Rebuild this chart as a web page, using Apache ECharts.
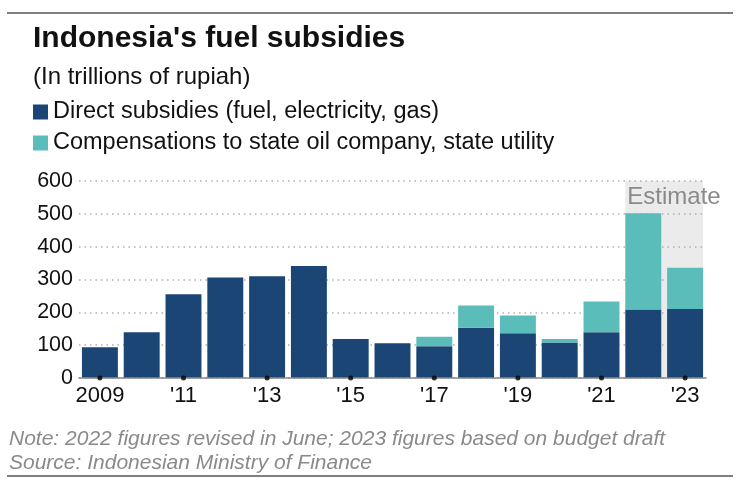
<!DOCTYPE html>
<html>
<head>
<meta charset="utf-8">
<script src="https://cdn.jsdelivr.net/npm/echarts@6/dist/echarts.min.js"></script>
<style>
  html, body { margin: 0; padding: 0; background: #fff; }
  #chart { width: 741px; height: 487px; }
</style>
</head>
<body>
<div id="chart"></div>
<script>
// 数据
const years = ['2009', '2010', '2011', '2012', '2013', '2014', '2015', '2016',
    '2017', '2018', '2019', '2020', '2021', '2022', '2023'];
const direct = [94, 139, 255, 306, 310, 341, 119, 106, 97, 153, 136, 108, 139, 209, 210];
const compensation = [0, 0, 0, 0, 0, 0, 0, 0, 29, 68, 54, 11, 94, 293, 126];
const tickYears = ['2009', '2011', '2013', '2015', '2017', '2019', '2021', '2023'];
const estimateYears = ['2022', '2023'];

const font = 'Liberation Sans, Arial, sans-serif';
const navy = '#1a4575';
const teal = '#5bbdb9';

const myChart = echarts.init(document.getElementById('chart'));

const option = {
    animation: false,
    textStyle: { fontFamily: font },
    title: [
        {
            text: "Indonesia's fuel subsidies",
            left: 33, top: 24, padding: 0,
            textStyle: { fontSize: 30, fontWeight: 'bold', color: '#111', fontFamily: font }
        },
        {
            text: '(In trillions of rupiah)',
            left: 33, top: 65, padding: 0,
            textStyle: { fontSize: 24, fontWeight: 'normal', color: '#111', fontFamily: font }
        }
    ],
    legend: {
        orient: 'vertical',
        left: 33, top: 100, padding: 0,
        itemGap: 7,
        itemWidth: 15, itemHeight: 15,
        icon: 'rect',
        data: ['Direct subsidies (fuel, electricity, gas)', 'Compensations to state oil company, state utility'],
        textStyle: { fontSize: 23.5, color: '#111', fontFamily: font }
    },
    grid: { left: 79, right: 35, top: 181, bottom: 109 },
    xAxis: {
        type: 'category',
        data: years,
        axisLine: { lineStyle: { color: '#888', width: 1.5 } },
        axisTick: { show: false },
        axisLabel: {
            interval: 1,
            fontSize: 22, color: '#111', margin: 7,
            formatter: v => v === '2009' ? v : "'" + v.slice(2)
        },
        z: 5
    },
    yAxis: {
        type: 'value',
        min: 0, max: 600, interval: 100,
        axisLabel: { fontSize: 21.5, color: '#111', margin: 6 },
        splitLine: { lineStyle: { color: '#b0b0b0', type: [1.5, 4], width: 1.5 } }
    },
    series: [
        {
            name: 'Direct subsidies (fuel, electricity, gas)',
            type: 'bar', stack: 'total',
            barCategoryGap: '14%',
            itemStyle: { color: navy },
            data: direct
        },
        {
            name: 'Compensations to state oil company, state utility',
            type: 'bar', stack: 'total',
            itemStyle: { color: teal },
            data: compensation.map(v => v || null)
        },
        {
            type: 'scatter',
            symbol: 'circle', symbolSize: 5,
            itemStyle: { color: '#000' },
            z: 10,
            silent: true,
            data: tickYears.map(y => [y, 0])
        }
    ],
    graphic: [
        { type: 'line', shape: { x1: 7, y1: 13, x2: 733, y2: 13 }, style: { stroke: '#555', lineWidth: 1.5 } },
        { type: 'line', shape: { x1: 7, y1: 476, x2: 733, y2: 476 }, style: { stroke: '#555', lineWidth: 1.5 } },
        {
            type: 'text', left: 9, top: 429,
            style: { text: 'Note: 2022 figures revised in June; 2023 figures based on budget draft',
                fontSize: 21, fontStyle: 'italic', fill: '#8a8a8a', fontFamily: font }
        },
        {
            type: 'text', left: 9, top: 453,
            style: { text: 'Source: Indonesian Ministry of Finance',
                fontSize: 21, fontStyle: 'italic', fill: '#8a8a8a', fontFamily: font }
        }
    ]
};

myChart.setOption(option);

// 估算区间阴影
const x0 = myChart.convertToPixel({ xAxisIndex: 0 }, estimateYears[0]);
const x1 = myChart.convertToPixel({ xAxisIndex: 0 }, estimateYears[1]);
const step = x1 - x0;
const half = step * 0.86 / 2;
const yTop = myChart.convertToPixel({ yAxisIndex: 0 }, 600);
const yBot = myChart.convertToPixel({ yAxisIndex: 0 }, 0);
myChart.setOption({
    graphic: option.graphic.concat([
        {
            type: 'rect', z: -10,
            shape: { x: x0 - half, y: yTop, width: x1 + half - (x0 - half), height: yBot - yTop },
            style: { fill: '#ebebeb' }
        },
        {
            type: 'text', z: 20,
            x: x0 - half + 2, y: yTop + 16,
            style: { text: 'Estimate', fontSize: 24, fill: '#8a8a8a', fontFamily: font,
                align: 'left', verticalAlign: 'middle' }
        }
    ])
});
</script>
</body>
</html>
